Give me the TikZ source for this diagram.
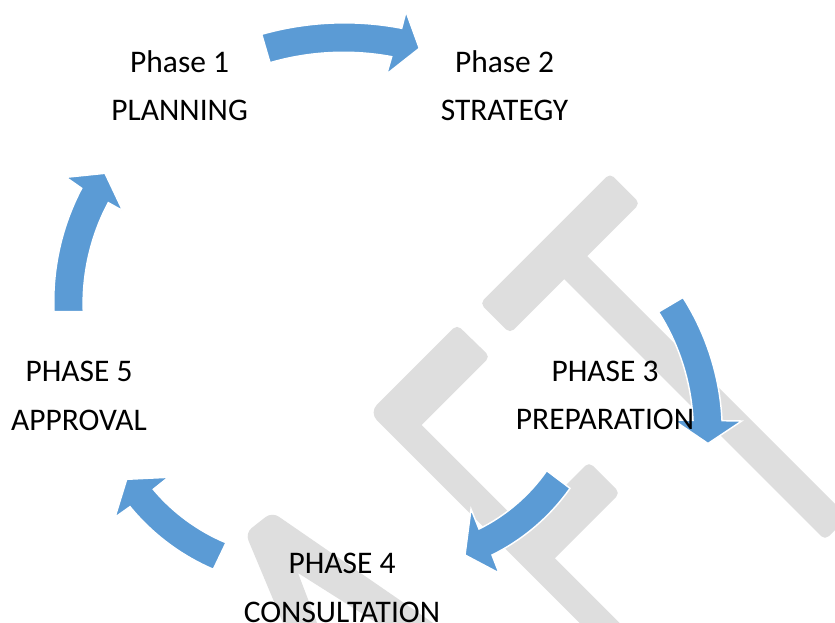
\documentclass[tikz,border=0pt]{standalone}
\usepackage{fontspec}
\setmainfont{Carlito}
\definecolor{cycblue}{RGB}{91,155,213}
\definecolor{wmgrey}{RGB}{222,222,222}
\tikzset{
  wm/.style={fill=wmgrey, draw=none},
  cyc/.style={fill=cycblue, draw=white, line width=1.1pt, line join=miter, looseness=0.86},
  lbl/.style={anchor=base, inner sep=0pt, text=black, font=\fontsize{23.6}{28}\selectfont}
}
\begin{document}
\begin{tikzpicture}[x=0.75pt,y=0.75pt]
\useasboundingbox (0,0) rectangle (835,-623);
\clip (0,0) rectangle (835,-623);
\fill[white] (0,0) rectangle (835,-623);
% watermark
\path[wm, rounded corners=4pt] (480,-303.3) -- (610,-173.3) -- (640,-203.3) [sharp corners] -- (587.2,-256.2) [rounded corners=4pt] -- (848,-517) -- (825,-540) [sharp corners] -- (564.2,-279.2) [rounded corners=4pt] -- (510,-333.3) -- cycle;
\path[wm, rounded corners=4pt] (457,-324.7) -- (490,-356.7) [sharp corners] -- (421.7,-425) -- (646.7,-650) -- (606.7,-650) [rounded corners=8pt] -- (369.2,-412.5) [rounded corners=4pt] -- cycle;
\path[wm, rounded corners=4pt] (589,-462) -- (620,-493) [sharp corners] -- (545,-568) -- (510,-541) [rounded corners=4pt] -- cycle;
\path[wm, rounded corners=6pt] (245.3,-533) -- (272,-512) [sharp corners] -- (457.7,-640) -- (403.9,-640) -- (298,-573) -- (323.5,-640) -- (290.1,-640) [rounded corners=6pt] -- cycle;
% cycle arrows
\path[cyc] (261.7,-34.3) to[bend left=13.4] (401.7,-28.3) -- (406,-11.7) -- (419.3,-48.3) -- (386.7,-74) -- (391.7,-56.7) to[bend right=13.4] (270,-62.7) -- cycle;
\path[cyc] (683,-297.5) to[bend left=15] (722,-420.7) -- (741.7,-421) -- (708,-443.5) -- (673.3,-420) -- (693,-420.3) to[bend right=15] (658.5,-312) -- cycle;
\path[cyc] (570,-488.3) to[bend left=14.4] (492,-555) -- (499,-573) -- (465,-555) -- (471,-509) -- (479,-529) to[bend right=14.4] (546.7,-470.7) -- cycle;
\path[cyc] (213.3,-569.3) to[bend left=13.8] (130,-506.7) -- (115,-517.3) -- (126.7,-479.3) -- (168.3,-477.3) -- (153.3,-489.3) to[bend right=13.8] (226,-542.7) -- cycle;
\path[cyc] (54,-311.7) to[bend left=15.2] (81.7,-188.3) -- (66,-177.3) -- (105,-173.3) -- (122.7,-210.7) -- (108.3,-202.7) to[bend right=15.2] (83.3,-311.7) -- cycle;
% labels
\node[lbl] (p1a) at (179.6,-72.5) {Phase 1};
\node[lbl] (p1b) at (179.6,-121) {PLANNING};
\node[lbl] (p2a) at (504.5,-72.5) {Phase 2};
\node[lbl] (p2b) at (504.5,-121) {STRATEGY};
\node[lbl] (p3a) at (605,-382) {PHASE 3};
\node[lbl] (p3b) at (605,-429.5) {PREPARATION};
\node[lbl] (p4a) at (342,-573) {PHASE 4};
\node[lbl] (p4b) at (342,-622) {CONSULTATION};
\node[lbl] (p5a) at (79,-382) {PHASE 5};
\node[lbl] (p5b) at (79,-430) {APPROVAL};
\end{tikzpicture}
\end{document}
